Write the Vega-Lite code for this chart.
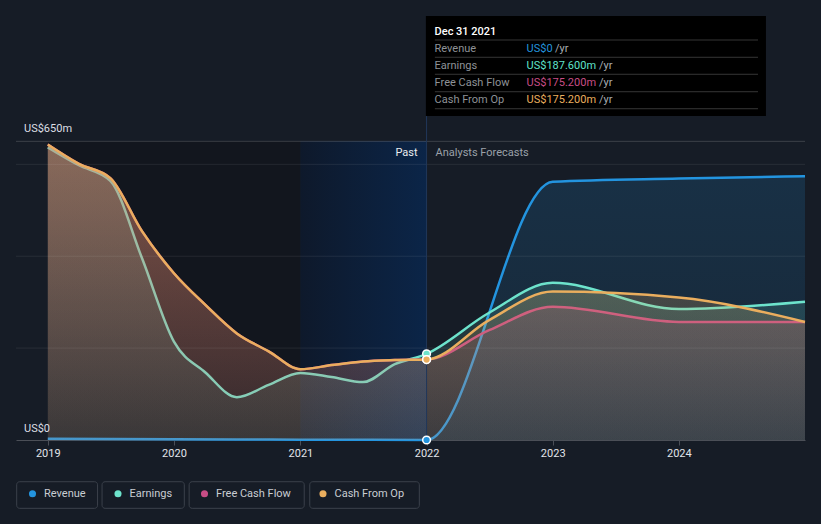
{
  "$schema": "https://vega.github.io/schema/vega-lite/v6.json",
  "width": 789,
  "height": 425,
  "autosize": {"type": "none"},
  "padding": {"left": 16, "top": 15, "right": 16, "bottom": 84},
  "background": "#161c26",
  "config": {
    "view": {"stroke": null},
    "font": "Roboto",
    "axisX": {
      "format": "%Y",
      "tickCount": {"interval": "year", "step": 1},
      "labelColor": "#e2e5ea",
      "labelFontSize": 11,
      "labelFont": "Roboto",
      "tickColor": "#4b4f57",
      "tickSize": 5,
      "domainColor": "#4b4f57",
      "grid": false,
      "labelPadding": 2,
      "labelFlush": false,
      "labelOverlap": false
    }
  },
  "datasets": {
    "fin": [
      {"date": "2019-01-01", "series": "Revenue", "value": 2.5},
      {"date": "2019-07-01", "series": "Revenue", "value": 2.2},
      {"date": "2020-01-01", "series": "Revenue", "value": 1.8},
      {"date": "2020-07-01", "series": "Revenue", "value": 1.3},
      {"date": "2021-01-01", "series": "Revenue", "value": 0.8},
      {"date": "2021-07-01", "series": "Revenue", "value": 0.4},
      {"date": "2022-01-01", "series": "Revenue", "value": 0},
      {"date": "2023-01-01", "series": "Revenue", "value": 562},
      {"date": "2024-01-01", "series": "Revenue", "value": 569},
      {"date": "2024-12-31", "series": "Revenue", "value": 574},
      {"date": "2019-01-01", "series": "Earnings", "value": 637},
      {"date": "2019-04-01", "series": "Earnings", "value": 598},
      {"date": "2019-07-01", "series": "Earnings", "value": 564},
      {"date": "2019-10-01", "series": "Earnings", "value": 395},
      {"date": "2020-01-01", "series": "Earnings", "value": 214},
      {"date": "2020-04-01", "series": "Earnings", "value": 147},
      {"date": "2020-07-01", "series": "Earnings", "value": 93},
      {"date": "2020-10-01", "series": "Earnings", "value": 120},
      {"date": "2021-01-01", "series": "Earnings", "value": 146},
      {"date": "2021-04-01", "series": "Earnings", "value": 137},
      {"date": "2021-07-01", "series": "Earnings", "value": 126},
      {"date": "2021-10-01", "series": "Earnings", "value": 165},
      {"date": "2022-01-01", "series": "Earnings", "value": 187.6},
      {"date": "2022-07-01", "series": "Earnings", "value": 277},
      {"date": "2023-01-01", "series": "Earnings", "value": 342},
      {"date": "2024-01-01", "series": "Earnings", "value": 285},
      {"date": "2024-12-31", "series": "Earnings", "value": 301},
      {"date": "2019-01-01", "series": "Free Cash Flow", "value": 643},
      {"date": "2019-04-01", "series": "Free Cash Flow", "value": 601},
      {"date": "2019-07-01", "series": "Free Cash Flow", "value": 570},
      {"date": "2019-10-01", "series": "Free Cash Flow", "value": 454},
      {"date": "2020-01-01", "series": "Free Cash Flow", "value": 363},
      {"date": "2020-04-01", "series": "Free Cash Flow", "value": 294},
      {"date": "2020-07-01", "series": "Free Cash Flow", "value": 232},
      {"date": "2020-10-01", "series": "Free Cash Flow", "value": 193},
      {"date": "2021-01-01", "series": "Free Cash Flow", "value": 154},
      {"date": "2021-04-01", "series": "Free Cash Flow", "value": 163},
      {"date": "2021-07-01", "series": "Free Cash Flow", "value": 171},
      {"date": "2021-10-01", "series": "Free Cash Flow", "value": 174},
      {"date": "2022-01-01", "series": "Free Cash Flow", "value": 175.2},
      {"date": "2022-07-01", "series": "Free Cash Flow", "value": 239},
      {"date": "2023-01-01", "series": "Free Cash Flow", "value": 290},
      {"date": "2024-01-01", "series": "Free Cash Flow", "value": 257},
      {"date": "2024-12-31", "series": "Free Cash Flow", "value": 257},
      {"date": "2019-01-01", "series": "Cash From Op", "value": 643},
      {"date": "2019-04-01", "series": "Cash From Op", "value": 601},
      {"date": "2019-07-01", "series": "Cash From Op", "value": 570},
      {"date": "2019-10-01", "series": "Cash From Op", "value": 454},
      {"date": "2020-01-01", "series": "Cash From Op", "value": 363},
      {"date": "2020-04-01", "series": "Cash From Op", "value": 294},
      {"date": "2020-07-01", "series": "Cash From Op", "value": 232},
      {"date": "2020-10-01", "series": "Cash From Op", "value": 193},
      {"date": "2021-01-01", "series": "Cash From Op", "value": 154},
      {"date": "2021-04-01", "series": "Cash From Op", "value": 163},
      {"date": "2021-07-01", "series": "Cash From Op", "value": 171},
      {"date": "2021-10-01", "series": "Cash From Op", "value": 174},
      {"date": "2022-01-01", "series": "Cash From Op", "value": 175.2},
      {"date": "2022-07-01", "series": "Cash From Op", "value": 261},
      {"date": "2023-01-01", "series": "Cash From Op", "value": 323},
      {"date": "2024-01-01", "series": "Cash From Op", "value": 310},
      {"date": "2024-12-31", "series": "Cash From Op", "value": 257}
    ]
  },
  "layer": [
    {
      "data": {"values": [{}]},
      "mark": {"type": "rect", "color": "#12161e"},
      "encoding": {
        "x": {"datum": {"year": 2019, "month": 1, "date": 1, "utc": true}, "type": "temporal", "title": null,
          "scale": {"type": "utc", "nice": false, "domain": [{"year": 2018, "month": 10, "date": 1, "utc": true}, {"year": 2024, "month": 12, "date": 31, "utc": true}]}},
        "x2": {"datum": {"year": 2021, "month": 1, "date": 1, "utc": true}},
        "y": {"datum": 0, "type": "quantitative", "axis": null, "scale": {"domain": [0, 925], "nice": false, "zero": false}},
        "y2": {"datum": 650}
      }
    },
    {
      "data": {"values": [{}]},
      "mark": {"type": "rect", "color": {"gradient": "linear", "x1": 0, "y1": 0, "x2": 1, "y2": 0, "stops": [{"offset": 0, "color": "#0e192b"}, {"offset": 1, "color": "#0b2548"}]}},
      "encoding": {
        "x": {"datum": {"year": 2021, "month": 1, "date": 1, "utc": true}, "type": "temporal", "title": null},
        "x2": {"datum": {"year": 2022, "month": 1, "date": 1, "utc": true}},
        "y": {"datum": 0, "type": "quantitative", "axis": null},
        "y2": {"datum": 650}
      }
    },
    {
      "data": {"name": "fin"},
      "transform": [{"filter": "datum.series == 'Revenue'"}],
      "mark": {"type": "area", "interpolate": "monotone", "color": {"gradient": "linear", "x1": 0, "y1": 0, "x2": 0, "y2": 1, "stops": [{"offset": 0, "color": "rgba(35,148,223,0.17)"}, {"offset": 1, "color": "rgba(35,148,223,0.09)"}]}},
      "encoding": {"x": {"field": "date", "type": "temporal", "title": null}, "y": {"field": "value", "type": "quantitative", "axis": null}}
    },
    {
      "data": {"name": "fin"},
      "transform": [{"filter": "datum.series == 'Revenue'"}],
      "mark": {"type": "line", "interpolate": "monotone", "strokeWidth": 2.5},
      "encoding": {
        "x": {"field": "date", "type": "temporal", "title": null},
        "y": {"field": "value", "type": "quantitative", "axis": null},
        "color": {"field": "series", "type": "nominal", "title": null,
          "scale": {"domain": ["Revenue", "Earnings", "Free Cash Flow", "Cash From Op"], "range": ["#2394df", "#6de3cc", "#c84d86", "#eaae5e"]},
          "legend": {"orient": "none", "legendX": 11, "legendY": 473, "direction": "horizontal", "columns": 4, "symbolType": "circle", "symbolSize": 50, "symbolStrokeWidth": 0, "labelFontSize": 11, "labelColor": "#c9cdd3", "labelFont": "Roboto", "labelOffset": 6, "columnPadding": 26.5, "padding": 0, "title": null,
            "encode": {"symbols": {"update": {"fill": {"scale": "color", "field": "value"}, "stroke": {"value": "transparent"}, "opacity": {"value": 1}}}}}}
      }
    },
    {
      "data": {"name": "fin"},
      "transform": [{"filter": "datum.series == 'Earnings'"}],
      "mark": {"type": "area", "interpolate": "monotone", "color": {"gradient": "linear", "x1": 0, "y1": 0, "x2": 0, "y2": 1, "stops": [{"offset": 0, "color": "rgba(109,227,204,0.22)"}, {"offset": 1, "color": "rgba(109,227,204,0.09)"}]}},
      "encoding": {"x": {"field": "date", "type": "temporal", "title": null}, "y": {"field": "value", "type": "quantitative", "axis": null}}
    },
    {
      "data": {"name": "fin"},
      "transform": [{"filter": "datum.series == 'Earnings'"}],
      "mark": {"type": "line", "interpolate": "monotone", "strokeWidth": 2.5},
      "encoding": {
        "x": {"field": "date", "type": "temporal", "title": null},
        "y": {"field": "value", "type": "quantitative", "axis": null},
        "color": {"field": "series", "type": "nominal", "title": null}
      }
    },
    {
      "data": {"name": "fin"},
      "transform": [{"filter": "datum.series == 'Free Cash Flow'"}],
      "mark": {"type": "area", "interpolate": "monotone", "color": {"gradient": "linear", "x1": 0, "y1": 0, "x2": 0, "y2": 1, "stops": [{"offset": 0, "color": "rgba(200,77,134,0.30)"}, {"offset": 1, "color": "rgba(200,77,134,0.08)"}]}},
      "encoding": {"x": {"field": "date", "type": "temporal", "title": null}, "y": {"field": "value", "type": "quantitative", "axis": null}}
    },
    {
      "data": {"name": "fin"},
      "transform": [{"filter": "datum.series == 'Free Cash Flow'"}],
      "mark": {"type": "line", "interpolate": "monotone", "strokeWidth": 2.5},
      "encoding": {
        "x": {"field": "date", "type": "temporal", "title": null},
        "y": {"field": "value", "type": "quantitative", "axis": null},
        "color": {"field": "series", "type": "nominal", "title": null}
      }
    },
    {
      "data": {"name": "fin"},
      "transform": [{"filter": "datum.series == 'Cash From Op'"}],
      "mark": {"type": "area", "interpolate": "monotone", "color": {"gradient": "linear", "x1": 0, "y1": 0, "x2": 0, "y2": 1, "stops": [{"offset": 0, "color": "rgba(234,174,94,0.34)"}, {"offset": 1, "color": "rgba(234,174,94,0.09)"}]}},
      "encoding": {"x": {"field": "date", "type": "temporal", "title": null}, "y": {"field": "value", "type": "quantitative", "axis": null}}
    },
    {
      "data": {"name": "fin"},
      "transform": [{"filter": "datum.series == 'Cash From Op'"}],
      "mark": {"type": "line", "interpolate": "monotone", "strokeWidth": 2.5},
      "encoding": {
        "x": {"field": "date", "type": "temporal", "title": null},
        "y": {"field": "value", "type": "quantitative", "axis": null},
        "color": {"field": "series", "type": "nominal", "title": null}
      }
    },
    {
      "data": {"values": [{"level": 200}, {"level": 400}, {"level": 600}, {"level": 650}]},
      "mark": {"type": "rule", "strokeWidth": 1},
      "encoding": {
        "y": {"field": "level", "type": "quantitative", "axis": null},
        "color": {"condition": {"test": "datum.level == 650", "value": "rgba(255,255,255,0.16)"}, "value": "rgba(255,255,255,0.08)"}
      }
    },
    {
      "data": {"values": [{}]},
      "mark": {"type": "rule", "color": "#21375a", "strokeWidth": 1},
      "encoding": {
        "x": {"datum": {"year": 2022, "month": 1, "date": 1, "utc": true}, "type": "temporal", "title": null},
        "y": {"datum": 0, "type": "quantitative", "axis": null},
        "y2": {"datum": 705}
      }
    },
    {
      "data": {"name": "fin"},
      "transform": [{"filter": "time(datum.date) == utc(2022, 0, 1)"}],
      "mark": {"type": "point", "filled": true, "size": 60, "stroke": "#ffffff", "strokeWidth": 1.5, "opacity": 1},
      "encoding": {
        "x": {"field": "date", "type": "temporal", "title": null},
        "y": {"field": "value", "type": "quantitative", "axis": null},
        "color": {"field": "series", "type": "nominal", "title": null}
      }
    },
    {
      "data": {"values": [{}]},
      "mark": {"type": "rect", "filled": false, "color": "#3b414b", "strokeWidth": 1, "cornerRadius": 3},
      "encoding": {
        "x": {"datum": {"year": 2018, "month": 10, "date": 3, "utc": true}, "type": "temporal", "title": null},
        "x2": {"datum": {"year": 2019, "month": 5, "date": 25, "utc": true}},
        "y": {"datum": -90.8, "type": "quantitative", "axis": null},
        "y2": {"datum": -148.7}
      }
    },
    {
      "data": {"values": [{}]},
      "mark": {"type": "rect", "filled": false, "color": "#3b414b", "strokeWidth": 1, "cornerRadius": 3},
      "encoding": {
        "x": {"datum": {"year": 2019, "month": 6, "date": 7, "utc": true}, "type": "temporal", "title": null},
        "x2": {"datum": {"year": 2020, "month": 1, "date": 31, "utc": true}},
        "y": {"datum": -90.8, "type": "quantitative", "axis": null},
        "y2": {"datum": -148.7}
      }
    },
    {
      "data": {"values": [{}]},
      "mark": {"type": "rect", "filled": false, "color": "#3b414b", "strokeWidth": 1, "cornerRadius": 3},
      "encoding": {
        "x": {"datum": {"year": 2020, "month": 2, "date": 14, "utc": true}, "type": "temporal", "title": null},
        "x2": {"datum": {"year": 2021, "month": 1, "date": 12, "utc": true}},
        "y": {"datum": -90.8, "type": "quantitative", "axis": null},
        "y2": {"datum": -148.7}
      }
    },
    {
      "data": {"values": [{}]},
      "mark": {"type": "rect", "filled": false, "color": "#3b414b", "strokeWidth": 1, "cornerRadius": 3},
      "encoding": {
        "x": {"datum": {"year": 2021, "month": 1, "date": 28, "utc": true}, "type": "temporal", "title": null},
        "x2": {"datum": {"year": 2021, "month": 12, "date": 11, "utc": true}},
        "y": {"datum": -90.8, "type": "quantitative", "axis": null},
        "y2": {"datum": -148.7}
      }
    },
    {
      "data": {"values": [{}]},
      "mark": {"type": "text", "text": "Past", "align": "right", "baseline": "middle", "dx": -9, "fontSize": 11, "color": "#eceef1"},
      "encoding": {"x": {"datum": {"year": 2022, "month": 1, "date": 1, "utc": true}, "type": "temporal", "title": null}, "y": {"datum": 624, "type": "quantitative", "axis": null}}
    },
    {
      "data": {"values": [{}]},
      "mark": {"type": "text", "text": "Analysts Forecasts", "align": "left", "baseline": "middle", "dx": 9, "fontSize": 11, "color": "#9ba1a9"},
      "encoding": {"x": {"datum": {"year": 2022, "month": 1, "date": 1, "utc": true}, "type": "temporal", "title": null}, "y": {"datum": 624, "type": "quantitative", "axis": null}}
    },
    {
      "data": {"values": [{}]},
      "mark": {"type": "text", "text": "US$650m", "align": "left", "baseline": "middle", "dx": 8, "fontSize": 11, "color": "#dcdfe4"},
      "encoding": {"x": {"datum": {"year": 2018, "month": 10, "date": 1, "utc": true}, "type": "temporal", "title": null}, "y": {"datum": 677, "type": "quantitative", "axis": null}}
    },
    {
      "data": {"values": [{}]},
      "mark": {"type": "text", "text": "US$0", "align": "left", "baseline": "middle", "dx": 8, "fontSize": 11, "color": "#dcdfe4"},
      "encoding": {"x": {"datum": {"year": 2018, "month": 10, "date": 1, "utc": true}, "type": "temporal", "title": null}, "y": {"datum": 24, "type": "quantitative", "axis": null}}
    },
    {
      "data": {"values": [{}]},
      "mark": {"type": "rect", "color": "#000000"},
      "encoding": {
        "x": {"datum": {"year": 2021, "month": 12, "date": 30, "utc": true}, "type": "temporal", "title": null},
        "x2": {"datum": {"year": 2024, "month": 9, "date": 9, "utc": true}},
        "y": {"datum": 705, "type": "quantitative", "axis": null},
        "y2": {"datum": 923}
      }
    },
    {
      "data": {"values": [{}]},
      "mark": {"type": "text", "text": "Dec 31 2021", "align": "left", "baseline": "middle", "dx": 8, "fontSize": 11, "fontWeight": 500, "color": "#ffffff"},
      "encoding": {"x": {"datum": {"year": 2022, "month": 1, "date": 1, "utc": true}, "type": "temporal", "title": null}, "y": {"datum": 888.5, "type": "quantitative", "axis": null}}
    },
    {
      "data": {"values": [{}]},
      "mark": {"type": "rule", "color": "#363636", "strokeWidth": 1},
      "encoding": {"x": {"datum": {"year": 2022, "month": 1, "date": 25, "utc": true}, "type": "temporal", "title": null}, "x2": {"datum": {"year": 2024, "month": 8, "date": 17, "utc": true}}, "y": {"datum": 870.6, "type": "quantitative", "axis": null}}
    },
    {
      "data": {"values": [{}]},
      "mark": {"type": "rule", "color": "#363636", "strokeWidth": 1},
      "encoding": {"x": {"datum": {"year": 2022, "month": 1, "date": 25, "utc": true}, "type": "temporal", "title": null}, "x2": {"datum": {"year": 2024, "month": 8, "date": 17, "utc": true}}, "y": {"datum": 833, "type": "quantitative", "axis": null}}
    },
    {
      "data": {"values": [{}]},
      "mark": {"type": "rule", "color": "#363636", "strokeWidth": 1},
      "encoding": {"x": {"datum": {"year": 2022, "month": 1, "date": 25, "utc": true}, "type": "temporal", "title": null}, "x2": {"datum": {"year": 2024, "month": 8, "date": 17, "utc": true}}, "y": {"datum": 796, "type": "quantitative", "axis": null}}
    },
    {
      "data": {"values": [{}]},
      "mark": {"type": "rule", "color": "#363636", "strokeWidth": 1},
      "encoding": {"x": {"datum": {"year": 2022, "month": 1, "date": 25, "utc": true}, "type": "temporal", "title": null}, "x2": {"datum": {"year": 2024, "month": 8, "date": 17, "utc": true}}, "y": {"datum": 758, "type": "quantitative", "axis": null}}
    },
    {
      "data": {"values": [{}]},
      "mark": {"type": "rule", "color": "#363636", "strokeWidth": 1},
      "encoding": {"x": {"datum": {"year": 2022, "month": 1, "date": 25, "utc": true}, "type": "temporal", "title": null}, "x2": {"datum": {"year": 2024, "month": 8, "date": 17, "utc": true}}, "y": {"datum": 721, "type": "quantitative", "axis": null}}
    },
    {
      "data": {"values": [{}]},
      "mark": {"type": "text", "text": "Revenue", "align": "left", "baseline": "middle", "dx": 8, "fontSize": 11, "color": "#8e9297"},
      "encoding": {"x": {"datum": {"year": 2022, "month": 1, "date": 1, "utc": true}, "type": "temporal", "title": null}, "y": {"datum": 851, "type": "quantitative", "axis": null}}
    },
    {
      "data": {"values": [{}]},
      "mark": {"type": "text", "text": "Earnings", "align": "left", "baseline": "middle", "dx": 8, "fontSize": 11, "color": "#8e9297"},
      "encoding": {"x": {"datum": {"year": 2022, "month": 1, "date": 1, "utc": true}, "type": "temporal", "title": null}, "y": {"datum": 814, "type": "quantitative", "axis": null}}
    },
    {
      "data": {"values": [{}]},
      "mark": {"type": "text", "text": "Free Cash Flow", "align": "left", "baseline": "middle", "dx": 8, "fontSize": 11, "color": "#8e9297"},
      "encoding": {"x": {"datum": {"year": 2022, "month": 1, "date": 1, "utc": true}, "type": "temporal", "title": null}, "y": {"datum": 777.5, "type": "quantitative", "axis": null}}
    },
    {
      "data": {"values": [{}]},
      "mark": {"type": "text", "text": "Cash From Op", "align": "left", "baseline": "middle", "dx": 8, "fontSize": 11, "color": "#8e9297"},
      "encoding": {"x": {"datum": {"year": 2022, "month": 1, "date": 1, "utc": true}, "type": "temporal", "title": null}, "y": {"datum": 740, "type": "quantitative", "axis": null}}
    },
    {
      "data": {"values": [{}]},
      "mark": {"type": "text", "text": "US$0", "align": "left", "baseline": "middle", "dx": 100, "fontSize": 11, "color": "#2394df"},
      "encoding": {"x": {"datum": {"year": 2022, "month": 1, "date": 1, "utc": true}, "type": "temporal", "title": null}, "y": {"datum": 851, "type": "quantitative", "axis": null}}
    },
    {
      "data": {"values": [{}]},
      "mark": {"type": "text", "text": "/yr", "align": "left", "baseline": "middle", "dx": 128.5, "fontSize": 11, "color": "#a9adb2"},
      "encoding": {"x": {"datum": {"year": 2022, "month": 1, "date": 1, "utc": true}, "type": "temporal", "title": null}, "y": {"datum": 851, "type": "quantitative", "axis": null}}
    },
    {
      "data": {"values": [{}]},
      "mark": {"type": "text", "text": "US$187.600m", "align": "left", "baseline": "middle", "dx": 100, "fontSize": 11, "color": "#5fe3cb"},
      "encoding": {"x": {"datum": {"year": 2022, "month": 1, "date": 1, "utc": true}, "type": "temporal", "title": null}, "y": {"datum": 814, "type": "quantitative", "axis": null}}
    },
    {
      "data": {"values": [{}]},
      "mark": {"type": "text", "text": "/yr", "align": "left", "baseline": "middle", "dx": 172.5, "fontSize": 11, "color": "#a9adb2"},
      "encoding": {"x": {"datum": {"year": 2022, "month": 1, "date": 1, "utc": true}, "type": "temporal", "title": null}, "y": {"datum": 814, "type": "quantitative", "axis": null}}
    },
    {
      "data": {"values": [{}]},
      "mark": {"type": "text", "text": "US$175.200m", "align": "left", "baseline": "middle", "dx": 100, "fontSize": 11, "color": "#c84d86"},
      "encoding": {"x": {"datum": {"year": 2022, "month": 1, "date": 1, "utc": true}, "type": "temporal", "title": null}, "y": {"datum": 777.5, "type": "quantitative", "axis": null}}
    },
    {
      "data": {"values": [{}]},
      "mark": {"type": "text", "text": "/yr", "align": "left", "baseline": "middle", "dx": 172.5, "fontSize": 11, "color": "#a9adb2"},
      "encoding": {"x": {"datum": {"year": 2022, "month": 1, "date": 1, "utc": true}, "type": "temporal", "title": null}, "y": {"datum": 777.5, "type": "quantitative", "axis": null}}
    },
    {
      "data": {"values": [{}]},
      "mark": {"type": "text", "text": "US$175.200m", "align": "left", "baseline": "middle", "dx": 100, "fontSize": 11, "color": "#eaae5e"},
      "encoding": {"x": {"datum": {"year": 2022, "month": 1, "date": 1, "utc": true}, "type": "temporal", "title": null}, "y": {"datum": 740, "type": "quantitative", "axis": null}}
    },
    {
      "data": {"values": [{}]},
      "mark": {"type": "text", "text": "/yr", "align": "left", "baseline": "middle", "dx": 172.5, "fontSize": 11, "color": "#a9adb2"},
      "encoding": {"x": {"datum": {"year": 2022, "month": 1, "date": 1, "utc": true}, "type": "temporal", "title": null}, "y": {"datum": 740, "type": "quantitative", "axis": null}}
    }
  ]
}
